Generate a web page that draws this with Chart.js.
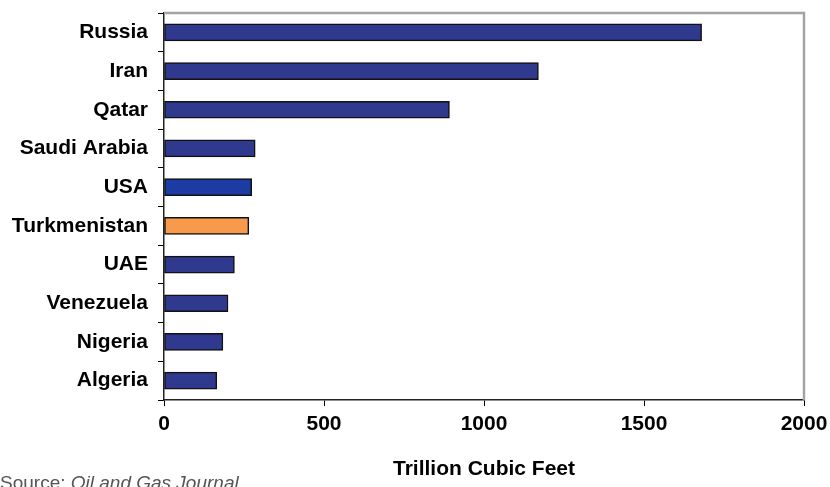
<!DOCTYPE html>
<html>
<head>
<meta charset="utf-8">
<script src="https://cdn.jsdelivr.net/npm/chart.js@4.4.0/dist/chart.umd.min.js"></script>
<style>
  html, body { margin: 0; padding: 0; background: #fff; overflow: hidden; }
  #wrap { position: relative; width: 830px; height: 487px; overflow: hidden; }
  #source {
    position: absolute; left: 0; top: 472px;
    font-family: 'Liberation Sans', Arial, sans-serif; font-size: 19px;
    color: #555; white-space: nowrap;
  }
</style>
</head>
<body>
<div id="wrap">
  <canvas id="gasChart" width="830" height="487"></canvas>
  <div id="source">Source: <i>Oil and Gas Journal</i></div>
</div>
<script>
const countries = ['Russia', 'Iran', 'Qatar', 'Saudi Arabia', 'USA', 'Turkmenistan', 'UAE', 'Venezuela', 'Nigeria', 'Algeria'];
const reserves = [1680, 1170, 892, 285, 274, 265, 220, 200, 184, 165];
const xTicks = [0, 500, 1000, 1500, 2000];

Chart.defaults.font.family = "'Liberation Sans', Arial, sans-serif";
Chart.defaults.color = '#000';

const barColors = countries.map(c =>
  c === 'Turkmenistan' ? '#f79a4c' : c === 'USA' ? '#1c3ca4' : '#2f3a8e');

// grey frame on top and right of the plot, like the original
const framePlugin = {
  id: 'frame',
  afterDraw(chart) {
    const { ctx, chartArea: a } = chart;
    ctx.save();
    ctx.strokeStyle = '#a3a3a3';
    ctx.lineWidth = 2.5;
    ctx.beginPath();
    ctx.moveTo(a.left, a.top);
    ctx.lineTo(a.right, a.top);
    ctx.lineTo(a.right, a.bottom);
    ctx.stroke();
    ctx.restore();
  }
};

new Chart(document.getElementById('gasChart'), {
  type: 'bar',
  data: {
    labels: countries,
    datasets: [{
      data: reserves,
      backgroundColor: barColors,
      borderColor: '#111',
      borderWidth: 1.5,
      borderSkipped: false,
      barThickness: 17
    }]
  },
  options: {
    indexAxis: 'y',
    responsive: false,
    animation: false,
    layout: { padding: { top: 13, right: 26, left: 0, bottom: 0 } },
    plugins: { legend: { display: false }, tooltip: { enabled: false } },
    scales: {
      x: {
        min: xTicks[0], max: xTicks[xTicks.length - 1],
        afterBuildTicks: s => { s.ticks = xTicks.map(v => ({ value: v })); },
        afterFit: s => { s.height = 87; s.paddingRight = 0; s.paddingLeft = 0; },
        ticks: { font: { size: 21, weight: 'bold' }, padding: 6, maxRotation: 0, callback: v => String(v) },
        grid: { drawOnChartArea: false, drawTicks: true, tickLength: 6, color: '#000', lineWidth: 1 },
        border: { color: '#222', width: 1.5 },
        title: {
          display: true, text: 'Trillion Cubic Feet',
          font: { size: 21, weight: 'bold' }, padding: { top: 0, bottom: 5 }
        }
      },
      y: {
        afterFit: s => { s.width = 164; s.paddingTop = 0; s.paddingBottom = 0; },
        ticks: { font: { size: 21, weight: 'bold' }, padding: 10 },
        grid: { drawOnChartArea: false, drawTicks: true, tickLength: 6, color: '#000', lineWidth: 1, offset: true },
        border: { color: '#222', width: 1.5 }
      }
    }
  },
  plugins: [framePlugin]
});
</script>
</body>
</html>
